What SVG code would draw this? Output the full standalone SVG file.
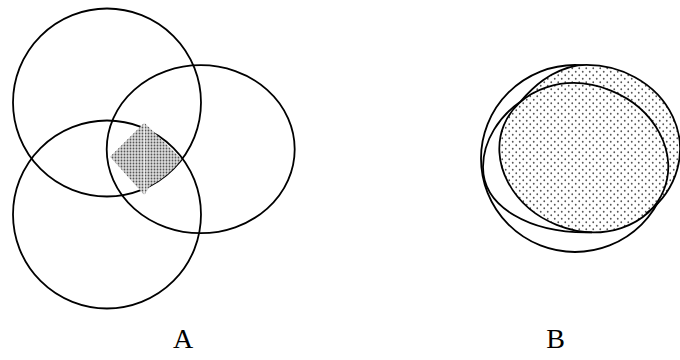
<svg xmlns="http://www.w3.org/2000/svg" width="680" height="360" viewBox="0 0 680 360">
  <style>
    .ring { fill: none; stroke: #000; stroke-width: 1.8; }
    .label { font-family: "Liberation Serif", "Times New Roman", serif; font-size: 28px; fill: #000; text-anchor: middle; }
  </style>
  <defs>
    <pattern id="dotsA" patternUnits="userSpaceOnUse" width="3" height="3">
      <rect width="3" height="3" fill="#dcdcdc"/>
      <circle cx="1.5" cy="1.5" r="0.9" fill="#555"/>
    </pattern>
    <pattern id="dotsB" patternUnits="userSpaceOnUse" width="7" height="7">
      <rect width="7" height="7" fill="#fff"/>
      <circle cx="1.75" cy="1.75" r="0.9" fill="#555"/>
      <circle cx="5.25" cy="5.25" r="0.9" fill="#555"/>
    </pattern>
    <clipPath id="cE3"><ellipse cx="583.8" cy="157.7" rx="86.3" ry="72.4" transform="rotate(22 583.8 157.7)"/></clipPath>
  </defs>

  <rect width="680" height="360" fill="#fff"/>

  <!-- Diagram A -->
  <g id="setA-top"><circle class="ring" cx="107" cy="102.5" r="94"/></g>
  <g id="setA-right"><ellipse class="ring" cx="200.7" cy="149.2" rx="94" ry="84"/></g>
  <g id="setA-bottom"><circle class="ring" cx="107" cy="214.5" r="94"/></g>
  <g id="A-intersection">
    <path d="M144.3,122.7 L181.7,159.3 A94,94 0 0,1 150,186.1 L144.3,195 L110,156.7 Z" fill="url(#dotsA)"/>
    <line x1="144.3" y1="122.7" x2="144.3" y2="195" stroke="#fff" stroke-width="0.7"/>
  </g>

  <!-- Diagram B -->
  <g id="setB-outer"><ellipse class="ring" cx="575" cy="158.5" rx="94" ry="93.5"/></g>
  <g id="B-shading">
    <path d="M520,102 C532,88 550,70 578,65.3 A94,84 0 0,1 646.5,213.3 L600,160 Z" fill="url(#dotsB)"/>
    <rect x="490" y="75" width="190" height="165" fill="url(#dotsB)" clip-path="url(#cE3)"/>
  </g>
  <g id="setB-shaded">
    <path class="ring" d="M578,65.3 A94,84 0 0,1 646.5,213.3"/>
  </g>
  <g id="setB-middle">
    <path class="ring" d="M578,65.3 C550,70 532,88 520,102 C500,116 483,140 483,167 C483,207 530,234 592,232.3"/>
  </g>
  <g id="setB-inner"><ellipse class="ring" cx="583.8" cy="157.7" rx="86.3" ry="72.4" transform="rotate(22 583.8 157.7)"/></g>

  <!-- Labels -->
  <g id="label-A"><text class="label" x="183" y="348">A</text></g>
  <g id="label-B"><text class="label" x="555.7" y="348">B</text></g>
</svg>
